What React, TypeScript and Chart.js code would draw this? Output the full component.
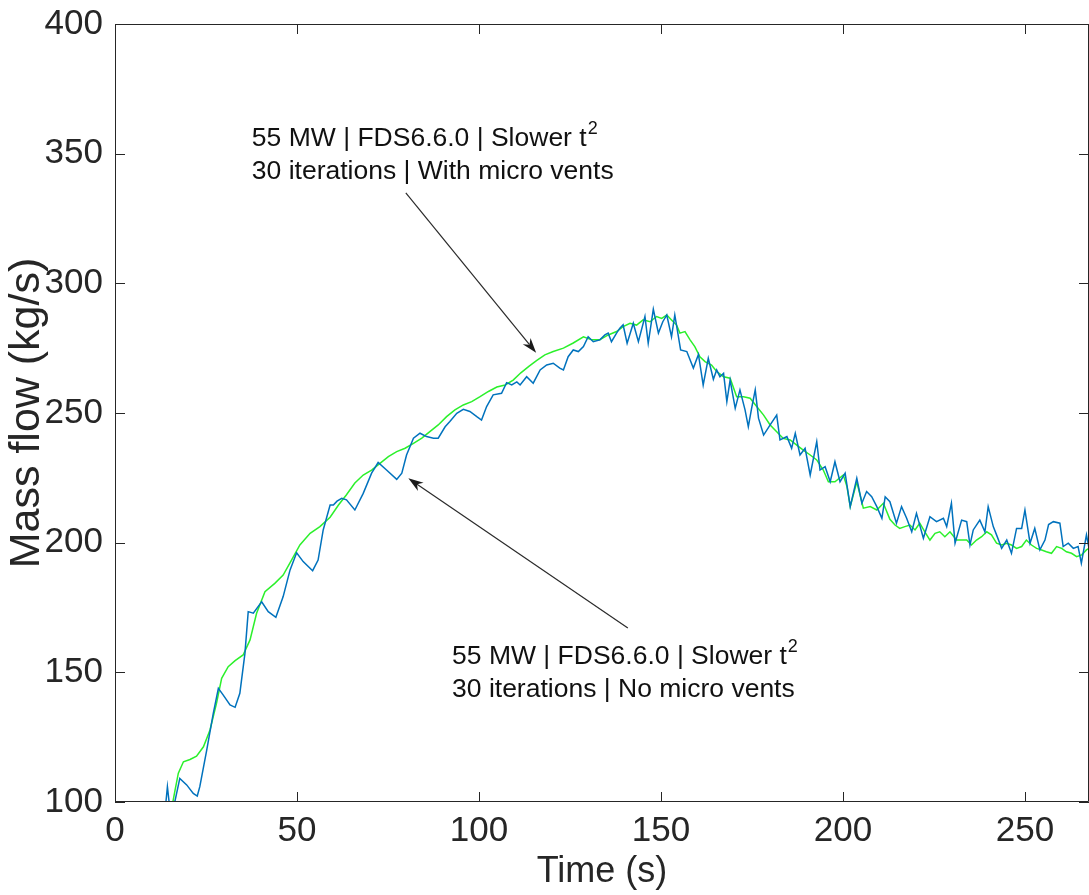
import React, { useEffect, useRef } from 'react';
import { Chart, registerables } from 'chart.js';

Chart.register(...registerables);

// ---- data (time in s, mass flow in kg/s) ----
const noVentsTime = [
  13.5, 14.0, 14.4, 15.1, 16.5, 17.8, 19.7, 21.5, 22.6, 23.3, 25.2, 27.0, 28.4, 29.7, 31.6, 33.0, 34.3, 35.7, 36.6, 38.0,
  40.3, 42.1, 44.2, 46.2, 48.1, 49.9, 51.7, 54.3, 55.8, 57.2, 59.1, 60.0, 61.0, 62.3, 63.6, 65.9, 68.2, 70.5, 72.3, 74.6,
  77.4, 78.8, 80.1, 82.0, 83.8, 85.6, 87.5, 88.8, 90.7, 92.0, 93.9, 95.7, 97.5, 99.4, 100.7, 102.1, 103.9, 106.2, 107.6, 109.0,
  110.4, 111.3, 113.1, 114.9, 116.8, 118.6, 120.4, 122.2, 123.2, 124.5, 125.9, 127.3, 128.7, 130.0, 131.4, 133.2, 134.6, 135.5, 136.4, 137.8,
  138.7, 139.6, 140.7, 142.4, 143.8, 145.6, 146.5, 147.9, 149.3, 150.5, 151.6, 152.9, 153.8, 155.4, 157.1, 158.9, 160.3, 161.6, 163.0, 164.4,
  165.3, 166.2, 167.2, 168.1, 169.0, 170.4, 171.7, 173.1, 174.0, 174.9, 175.9, 176.8, 178.2, 180.0, 181.8, 182.7, 184.6, 185.9, 186.9, 188.2,
  189.6, 191.0, 192.8, 193.7, 195.1, 196.5, 197.8, 199.2, 200.6, 202.0, 203.8, 205.2, 206.5, 207.9, 209.3, 210.7, 211.6, 212.9, 214.7, 216.1,
  217.5, 218.9, 220.2, 222.1, 223.9, 225.7, 227.6, 228.5, 229.8, 230.8, 232.6, 234.0, 234.9, 235.8, 237.6, 239.0, 239.9, 241.3, 242.2, 243.6,
  245.0, 246.3, 247.7, 249.1, 250.0, 251.4, 252.7, 254.1, 255.5, 256.5, 257.8, 259.6, 260.5, 261.9, 263.3, 264.6, 265.5, 266.9, 267.6,
];
const noVentsFlow = [
  96, 100.1, 105.9, 97, 100.5, 109.1, 106.6, 103.3, 102.3, 105.9, 120, 134.2, 143.8, 141.3, 137.4, 136.5, 141.9, 157.3, 173.4, 172.8,
  177.2, 173.4, 171.2, 179.2, 189.5, 196.1, 192.7, 189.2, 193.3, 204.9, 214.5, 214.5, 216, 217.1, 216.5, 212.6, 219, 226.8, 230.9, 228,
  224.4, 226.8, 233.8, 240.3, 242.2, 240.9, 240.3, 240.3, 244.7, 246.7, 249.9, 251.4, 250.6, 248.6, 247.3, 252.5, 257, 257.6, 261.7, 260.8,
  262, 260.8, 264, 261.5, 266.6, 268.5, 269.2, 267.3, 266.6, 271.7, 274.3, 273.7, 275.6, 279.4, 277.5, 278.2, 280.1, 280.8, 277.5, 280.8,
  282.7, 284, 276.9, 284.6, 277.5, 287.2, 276.9, 290, 280.8, 285.2, 287.8, 279.4, 287.8, 274.3, 273.7, 267.3, 272.6, 260.8, 271.1, 263,
  266.6, 264, 265.3, 254.4, 262.7, 251.8, 258.9, 251.2, 244.7, 251.8, 258.9, 248, 241.5, 245.4, 249.2, 239.6, 240.9, 236.4, 242.2, 233.8,
  236.4, 226.1, 239, 228, 229.3, 223.5, 231.2, 223.5, 226.8, 213.9, 224.8, 215.2, 219.7, 217.7, 213.9, 209.4, 217.7, 215.8, 207.5, 213.9,
  209.4, 204.2, 211.3, 201.7, 210, 208.1, 209.4, 206.2, 215.2, 199.8, 208.7, 208.1, 199.1, 204.9, 208.7, 204.2, 213.9, 206.2, 203, 197.8,
  201, 195.9, 205.5, 205.5, 212.6, 199.8, 205.5, 197.2, 201, 207, 208.1, 207.5, 198.5, 199.8, 197.8, 198.5, 192.1, 203, 197.8,
];

const withVentsTime = [
  15.5, 16.5, 17.4, 18.8, 20.6, 22.4, 24.3, 26.1, 27.9, 29.3, 31.1, 33.0, 35.2, 37.1, 38.9, 41.2, 43.9, 46.2, 48.5, 50.8,
  53.6, 56.3, 59.1, 61.4, 63.6, 65.9, 68.2, 70.5, 72.8, 75.1, 77.4, 79.7, 82.0, 84.3, 86.5, 88.8, 91.1, 93.4, 95.7, 98.0,
  100.3, 102.6, 104.9, 107.2, 109.4, 111.5, 113.7, 115.8, 118.1, 120.4, 123.2, 125.9, 128.7, 131.0, 133.2, 135.5, 137.8, 139.6, 141.5, 143.3,
  145.1, 147.0, 148.8, 150.2, 151.6, 152.9, 154.3, 155.2, 156.6, 158.0, 159.3, 160.7, 162.1, 163.9, 165.3, 167.2, 169.0, 170.8, 172.7, 174.5,
  176.3, 178.2, 180.0, 181.8, 183.6, 185.5, 187.3, 189.1, 191.0, 192.8, 194.6, 196.0, 197.8, 200.1, 201.1, 202.0, 203.8, 205.6, 207.5, 209.3,
  211.1, 212.9, 214.3, 215.6, 217.0, 218.4, 219.8, 221.1, 222.5, 223.9, 225.3, 226.6, 228.0, 229.4, 231.2, 232.6, 234.0, 235.3, 236.7, 238.1,
  239.5, 240.8, 242.2, 243.6, 245.0, 246.3, 247.7, 249.1, 250.4, 251.8, 253.2, 254.6, 255.9, 257.3, 258.7, 260.1, 261.4, 262.8, 264.2, 265.6,
  266.9, 267.6,
];
const withVentsFlow = [
  97, 104.6, 111.1, 115.5, 116.4, 117.7, 121.3, 127.8, 138.1, 147.7, 152.2, 154.5, 156.7, 162.5, 172.8, 181.1, 184.3, 187.5, 193.3, 199.1,
  203.6, 206.2, 209.8, 214.5, 218.5, 223, 226.1, 228, 230.6, 233.2, 235.1, 236.4, 238.3, 240.3, 242.8, 245.4, 248.6, 251.2, 253.1, 254.4,
  256.3, 258.3, 260, 260.8, 262.7, 265.5, 268, 270.2, 272.4, 273.7, 275, 277, 279.4, 278.2, 278.2, 280.1, 281.4, 283.3, 284.6, 283.9,
  285.9, 285.2, 287.2, 286.5, 287.8, 285.9, 283.9, 280.8, 281.4, 278.2, 275.6, 271.7, 269.8, 268.5, 266, 264, 263.4, 256.3, 256.3, 255.7,
  252.5, 249.2, 245.4, 242.8, 240.2, 239.6, 237.6, 235.7, 233.8, 231.9, 228, 223.5, 223.5, 226.1, 221.6, 213.9, 223.5, 213.3, 213.9, 212.6,
  215.2, 209, 206.8, 205.5, 206.2, 206.8, 204.9, 207.5, 204.2, 201, 203.6, 204.2, 202.3, 204.2, 201, 201, 201, 199.1, 201, 202.3,
  204.2, 203, 199.8, 199.1, 199.8, 199.1, 197.8, 198.5, 201, 199.1, 197.8, 197.2, 196.5, 195.9, 198.5, 197.8, 196.5, 195.9, 194.6, 195.3,
  197.2, 197.8,
];

const xRange = [0, 267.6];
const yRange = [100, 400];
const tickStep = 50;
const xTitle = 'Time (s)';
const yTitle = 'Mass flow (kg/s)';

// annotations: text lines, text anchor (time, flow), arrow tail -> head (time, flow)
const noteWithLines = ['55 MW | FDS6.6.0 | Slower t', '30 iterations | With micro vents'];
const noteWithAnchor = [37.6, 355.6];
const noteWithArrow = [79.9, 334.9, 115.7, 273.2];
const noteNoLines = ['55 MW | FDS6.6.0 | Slower t', '30 iterations | No micro vents'];
const noteNoAnchor = [92.6, 155.9];
const noteNoArrow = [140.9, 167.1, 80.6, 224.8];
const superscript = '2';

const AXIS = '#262626';
const BLUE = '#0072BD';
const GREEN = '#2BF02B';
const FONT = '"Liberation Sans", Arial, sans-serif';

const framePlugin = {
  id: 'matlabFrame',
  afterDraw(chart: any) {
    const { ctx, chartArea: a, scales } = chart;
    const xs = scales.x;
    const ys = scales.y;
    ctx.save();
    ctx.strokeStyle = AXIS;
    ctx.lineWidth = 1;
    ctx.beginPath();
    ctx.rect(a.left + 0.5, a.top + 0.5, a.right - a.left - 1, a.bottom - a.top - 1);
    ctx.stroke();
    const TL = 10;
    ctx.beginPath();
    xs.ticks.forEach((t: any) => {
      const px = Math.round(xs.getPixelForValue(t.value)) + 0.5;
      ctx.moveTo(px, a.bottom);
      ctx.lineTo(px, a.bottom - TL);
      ctx.moveTo(px, a.top);
      ctx.lineTo(px, a.top + TL);
    });
    ys.ticks.forEach((t: any) => {
      const py = Math.round(ys.getPixelForValue(t.value)) + 0.5;
      ctx.moveTo(a.left, py);
      ctx.lineTo(a.left + TL, py);
      ctx.moveTo(a.right, py);
      ctx.lineTo(a.right - TL, py);
    });
    ctx.stroke();

    const arrow = (spec: number[]) => {
      const x1 = xs.getPixelForValue(spec[0]);
      const y1 = ys.getPixelForValue(spec[1]);
      const x2 = xs.getPixelForValue(spec[2]);
      const y2 = ys.getPixelForValue(spec[3]);
      const ang = Math.atan2(y2 - y1, x2 - x1);
      const hl = 15;
      const hw = 5;
      ctx.strokeStyle = '#2a2a2a';
      ctx.fillStyle = '#1a1a1a';
      ctx.lineWidth = 1.2;
      ctx.beginPath();
      ctx.moveTo(x1, y1);
      ctx.lineTo(x2 - Math.cos(ang) * hl * 0.7, y2 - Math.sin(ang) * hl * 0.7);
      ctx.stroke();
      ctx.beginPath();
      ctx.moveTo(x2, y2);
      ctx.lineTo(x2 - Math.cos(ang) * hl - Math.sin(ang) * hw, y2 - Math.sin(ang) * hl + Math.cos(ang) * hw);
      ctx.lineTo(x2 - Math.cos(ang) * hl * 0.7, y2 - Math.sin(ang) * hl * 0.7);
      ctx.lineTo(x2 - Math.cos(ang) * hl + Math.sin(ang) * hw, y2 - Math.sin(ang) * hl - Math.cos(ang) * hw);
      ctx.closePath();
      ctx.fill();
    };
    arrow(noteWithArrow);
    arrow(noteNoArrow);

    const note = (lines: string[], anchor: number[]) => {
      const x0 = xs.getPixelForValue(anchor[0]);
      const y0 = ys.getPixelForValue(anchor[1]);
      ctx.fillStyle = '#111';
      ctx.textAlign = 'left';
      ctx.textBaseline = 'middle';
      ctx.font = `26.5px ${FONT}`;
      ctx.fillText(lines[0], x0, y0);
      const w = ctx.measureText(lines[0]).width;
      ctx.fillText(lines[1], x0, y0 + 33);
      ctx.font = `18px ${FONT}`;
      ctx.fillText(superscript, x0 + w + 1, y0 - 10);
    };
    note(noteWithLines, noteWithAnchor);
    note(noteNoLines, noteNoAnchor);
    ctx.restore();
  },
};

export default function App() {
  const ref = useRef<HTMLCanvasElement | null>(null);
  useEffect(() => {
    if (!ref.current) return;
    const chart = new Chart(ref.current, {
      type: 'line',
      data: {
        datasets: [
          {
            label: 'No micro vents',
            data: noVentsTime.map((t, i) => ({ x: t, y: noVentsFlow[i] })),
            borderColor: BLUE,
            borderWidth: 1.5,
            pointRadius: 0,
            tension: 0,
            order: 0,
          },
          {
            label: 'With micro vents',
            data: withVentsTime.map((t, i) => ({ x: t, y: withVentsFlow[i] })),
            borderColor: GREEN,
            borderWidth: 1.5,
            pointRadius: 0,
            tension: 0,
            order: 1,
          },
        ],
      },
      options: {
        animation: false,
        responsive: false,
        maintainAspectRatio: false,
        events: [],
        layout: { padding: { top: 24, right: 0, left: 0, bottom: 0 } },
        plugins: { legend: { display: false }, tooltip: { enabled: false } },
        scales: {
          x: {
            type: 'linear',
            min: xRange[0],
            max: xRange[1],
            grid: { display: false, drawTicks: false },
            border: { display: false },
            ticks: {
              stepSize: tickStep,
              includeBounds: false,
              maxRotation: 0,
              autoSkip: false,
              color: AXIS,
              padding: 8,
              font: { family: FONT, size: 35, lineHeight: 1.2 },
            },
            title: {
              display: true,
              text: xTitle,
              color: AXIS,
              padding: { top: 0, bottom: 1 },
              font: { family: FONT, size: 36, lineHeight: 1.2 },
            },
            afterFit: (s: any) => {
              s.height = 93;
              s.paddingLeft = 0;
              s.paddingRight = 0;
            },
          },
          y: {
            type: 'linear',
            min: yRange[0],
            max: yRange[1],
            grid: { display: false, drawTicks: false },
            border: { display: false },
            ticks: {
              stepSize: tickStep,
              includeBounds: false,
              color: AXIS,
              padding: 12,
              font: { family: FONT, size: 35, lineHeight: 1.2 },
            },
            title: {
              display: true,
              text: yTitle,
              color: AXIS,
              padding: { top: 1, bottom: 0 },
              font: { family: FONT, size: 43, lineHeight: 1.2 },
            },
            afterFit: (s: any) => {
              s.width = 115;
              s.paddingTop = 0;
              s.paddingBottom = 0;
            },
          },
        },
      },
      plugins: [framePlugin],
    });
    return () => chart.destroy();
  }, []);
  return (
    <div style={{ position: 'fixed', left: 0, top: 0, width: 1089, height: 895, background: '#fff' }}>
      <canvas ref={ref} width={1089} height={895} />
    </div>
  );
}
